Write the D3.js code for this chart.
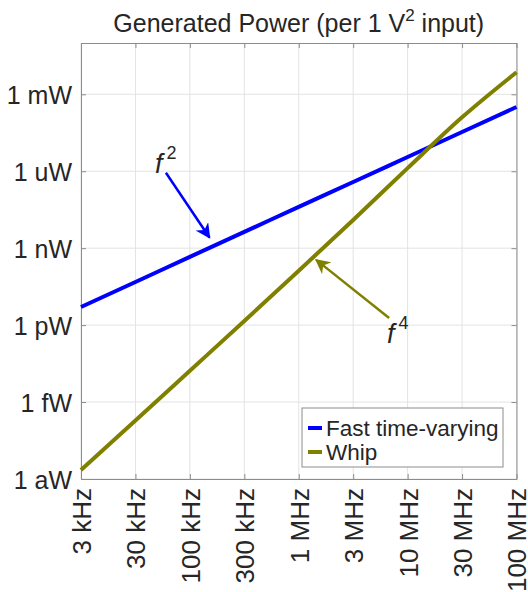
<!doctype HTML>
<html>
<head>
    <style>
        body { margin: 0; background: #fff; }
        text { font-family: "Liberation Sans", Arial, sans-serif; fill: #262626; }
        .grid line { stroke: #e3e3e3; stroke-width: 1; }
        .axis path, .axis line { stroke: #8c8c8c; }
    </style>
    <script src="https://d3js.org/d3.v7.min.js"></script>
</head>
<body>
<script>
    // x categories (tick labels as printed), evenly spaced in the figure
    var xLabels = ["3 kHz", "30 kHz", "100 kHz", "300 kHz", "1 MHz", "3 MHz", "10 MHz", "30 MHz", "100 MHz"];
    // generated power in W at each x category
    var fastPower = [5.1e-12, 4.8e-11, 4.6e-10, 4.3e-9, 4.1e-8, 3.8e-7, 3.6e-6, 3.4e-5, 3.2e-4];
    var whipPower = [2.24e-18, 1.91e-16, 1.66e-14, 1.45e-12, 1.32e-10, 1.26e-8, 1.32e-6, 1.26e-4, 7.2e-3];
    var yTickValues = [1e-18, 1e-15, 1e-12, 1e-9, 1e-6, 1e-3];
    var yTickLabels = ["1 aW", "1 fW", "1 pW", "1 nW", "1 uW", "1 mW"];
    var seriesNames = ["Fast time-varying", "Whip"];
    var seriesColors = ["#0000ff", "#808000"];

    var canvasWidth = 528;
    var canvasHeight = 592;
    var plotLeft = 81, plotRight = 516.5, plotTop = 43, plotBottom = 479;

    var svg = d3.select("body").append("svg")
        .attr("width", canvasWidth)
        .attr("height", canvasHeight);

    var xScale = d3.scalePoint().domain(xLabels).range([plotLeft, plotRight]);
    // helper for annotation positions between categories
    var xIdx = d3.scaleLinear().domain([0, xLabels.length - 1]).range([plotLeft, plotRight]);
    var yScale = d3.scaleLog().domain([1e-18, 1e-1]).range([plotBottom, plotTop]);

    // grid
    var grid = svg.append("g").attr("class", "grid");
    grid.selectAll(".gx").data(xLabels).enter().append("line")
        .attr("x1", function(d) { return xScale(d); })
        .attr("x2", function(d) { return xScale(d); })
        .attr("y1", plotTop).attr("y2", plotBottom);
    grid.selectAll(".gy").data(yTickValues).enter().append("line")
        .attr("x1", plotLeft).attr("x2", plotRight)
        .attr("y1", function(d) { return yScale(d); })
        .attr("y2", function(d) { return yScale(d); });

    // axes (ticks inside, box all round)
    var xAxis = svg.append("g").attr("class", "axis")
        .attr("transform", "translate(0," + plotBottom + ")")
        .call(d3.axisBottom(xScale).tickSizeInner(-5).tickSizeOuter(0));
    xAxis.selectAll("text")
        .attr("transform", "rotate(-90)")
        .attr("text-anchor", "end")
        .attr("x", -9)
        .attr("y", 0)
        .attr("dy", "0.36em")
        .style("font-size", "26px");

    svg.append("g").attr("class", "axis")
        .attr("transform", "translate(0," + plotTop + ")")
        .call(d3.axisTop(xScale).tickSizeInner(-5).tickSizeOuter(0).tickFormat(""));

    var yAxis = svg.append("g").attr("class", "axis")
        .attr("transform", "translate(" + plotLeft + ",0)")
        .call(d3.axisLeft(yScale).tickValues(yTickValues).tickSizeInner(-5).tickSizeOuter(0)
            .tickFormat(function(d, i) { return yTickLabels[i]; }));
    yAxis.selectAll("text")
        .attr("x", -9)
        .attr("dy", "0.36em")
        .style("font-size", "25px");

    svg.append("g").attr("class", "axis")
        .attr("transform", "translate(" + plotRight + ",0)")
        .call(d3.axisRight(yScale).tickValues(yTickValues).tickSizeInner(-5).tickSizeOuter(0).tickFormat(""));

    // lines
    var line = d3.line()
        .x(function(d, i) { return xScale(xLabels[i]); })
        .y(function(d) { return yScale(d); })
        .curve(d3.curveMonotoneX);

    [fastPower, whipPower].forEach(function(s, k) {
        svg.append("path")
            .datum(s)
            .attr("fill", "none")
            .attr("stroke", seriesColors[k])
            .attr("stroke-width", 4)
            .attr("d", line);
    });

    // arrows
    var defs = svg.append("defs");
    seriesColors.forEach(function(c, k) {
        defs.append("marker")
            .attr("id", "arr" + k)
            .attr("viewBox", "0 0 10 10")
            .attr("refX", 9).attr("refY", 5)
            .attr("markerWidth", 6).attr("markerHeight", 6)
            .attr("markerUnits", "strokeWidth")
            .attr("orient", "auto")
            .append("path")
            .attr("d", "M0,0 L10,5 L0,10 L3,5 Z")
            .attr("fill", c);
    });

    var notes = [
        {label: "2", from: [1.56, 8.7e-7], to: [2.36, 2.6e-9], text: [1.36, 8.5e-7], color: 0},
        {label: "4", from: [5.66, 1.9e-12], to: [4.32, 3.5e-10], text: [5.62, 2.0e-13], color: 1}
    ];
    notes.forEach(function(n) {
        svg.append("line")
            .attr("x1", xIdx(n.from[0])).attr("y1", yScale(n.from[1]))
            .attr("x2", xIdx(n.to[0])).attr("y2", yScale(n.to[1]))
            .attr("stroke", seriesColors[n.color])
            .attr("stroke-width", 2.5)
            .attr("marker-end", "url(#arr" + n.color + ")");
        var t = svg.append("text")
            .attr("x", xIdx(n.text[0]))
            .attr("y", yScale(n.text[1]))
            .style("font-size", "27px");
        t.append("tspan").style("font-style", "italic").text("f");
        t.append("tspan").attr("dx", 4).attr("dy", -14).style("font-size", "18px").text(n.label);
    });

    // legend
    var legend = svg.append("g").attr("transform", "translate(302,408)");
    legend.append("rect")
        .attr("width", 201).attr("height", 59)
        .attr("fill", "#fff")
        .attr("stroke", "#8c8c8c");
    seriesNames.forEach(function(name, k) {
        var yy = 20 + k * 24;
        legend.append("line")
            .attr("x1", 6).attr("x2", 20)
            .attr("y1", yy).attr("y2", yy)
            .attr("stroke", seriesColors[k])
            .attr("stroke-width", 4);
        legend.append("text")
            .attr("x", 24).attr("y", yy)
            .attr("dy", "0.36em")
            .style("font-size", "22.5px")
            .text(name);
    });

    // title
    var title = svg.append("text")
        .attr("x", (plotLeft + plotRight) / 2)
        .attr("y", 32)
        .attr("text-anchor", "middle")
        .style("font-size", "25px");
    title.append("tspan").text("Generated Power (per 1 V");
    title.append("tspan").attr("dy", -11).style("font-size", "17px").text("2");
    title.append("tspan").attr("dy", 11).text(" input)");
</script>
</body>
</html>
